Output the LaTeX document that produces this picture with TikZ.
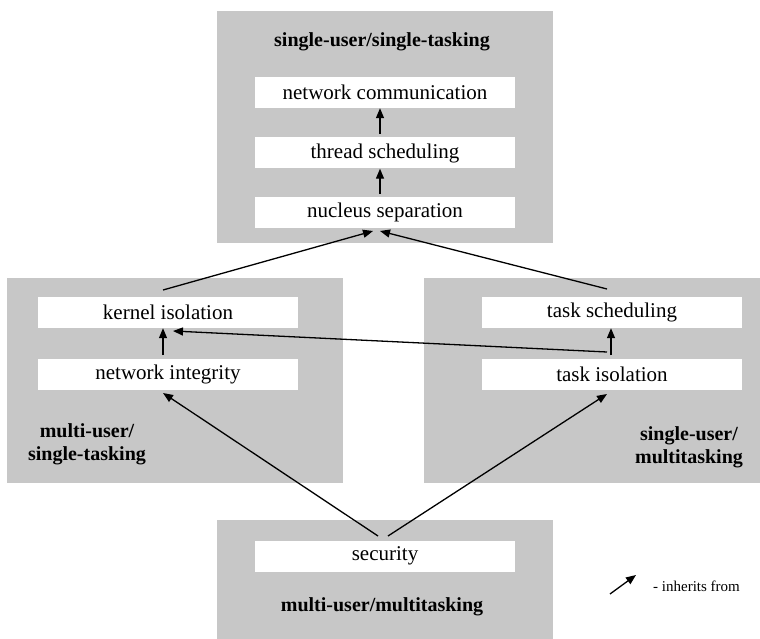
\documentclass[tikz,border=0pt]{standalone}
\usepackage{fontspec}
\setmainfont{Liberation Serif}
\usetikzlibrary{arrows.meta}
\definecolor{panelgray}{RGB}{199,199,199}
\begin{document}
\begin{tikzpicture}[x=1pt,y=-1pt,
  item/.style={fill=white,draw=none,minimum width=260pt,minimum height=31pt,inner sep=0pt,font=\fontsize{21}{23}\selectfont},
  title/.style={font=\fontsize{20}{23}\selectfont\bfseries,align=center,inner sep=0pt},
  inh/.style={-{Triangle[length=10pt,width=8pt]},line width=1.3pt}]
\useasboundingbox (0,0) rectangle (760,639);
% category panels
\fill[panelgray] (217,11) rectangle (553,243);
\fill[panelgray] (7,278) rectangle (343,483);
\fill[panelgray] (424,278) rectangle (760,483);
\fill[panelgray] (217,520) rectangle (553,639);
% panel titles
\node[title] (t1) at (382,42) {single-user/single-tasking};
\node[title] (t2) at (87,444) {multi-user/\\single-tasking};
\node[title] (t3) at (689,447) {single-user/\\multitasking};
\node[title] (t4) at (382,607) {multi-user/multitasking};
% capabilities
\node[item] (nc) at (385,92.5) {network communication};
\node[item] (ts) at (385,153) {thread scheduling};
\node[item] (ns) at (385,212.5) {nucleus separation};
\node[item] (ki) at (168,312.5) {kernel isolation};
\node[item] (ni) at (168,374.5) {network integrity};
\node[item] (tsk) at (612,312.5) {task scheduling};
\node[item] (ti) at (612,374.5) {task isolation};
\node[item] (sec) at (385,556) {security};
% inheritance
\draw[inh] (380,134) -- (nc.south -| 380,0);
\draw[inh] (380,194) -- (ts.south -| 380,0);
\draw[inh] (163,290) -- (373,231);
\draw[inh] (607,289) -- (380,231);
\draw[inh] (163,355) -- (ki.south -| 163,0);
\draw[inh] (611,355) -- (tsk.south -| 611,0);
\draw[inh] (607,352) -- (173,331);
\draw[inh] (378,536) -- (163,393);
\draw[inh] (388,536) -- (607,394);
% legend
\coordinate (la) at (610,594);
\coordinate (lb) at (636,575);
\draw[inh] (la) -- (lb);
\node[anchor=west,font=\fontsize{15}{17}\selectfont,inner sep=0pt] (lt) at (653,586) {- inherits from};
\end{tikzpicture}
\end{document}
